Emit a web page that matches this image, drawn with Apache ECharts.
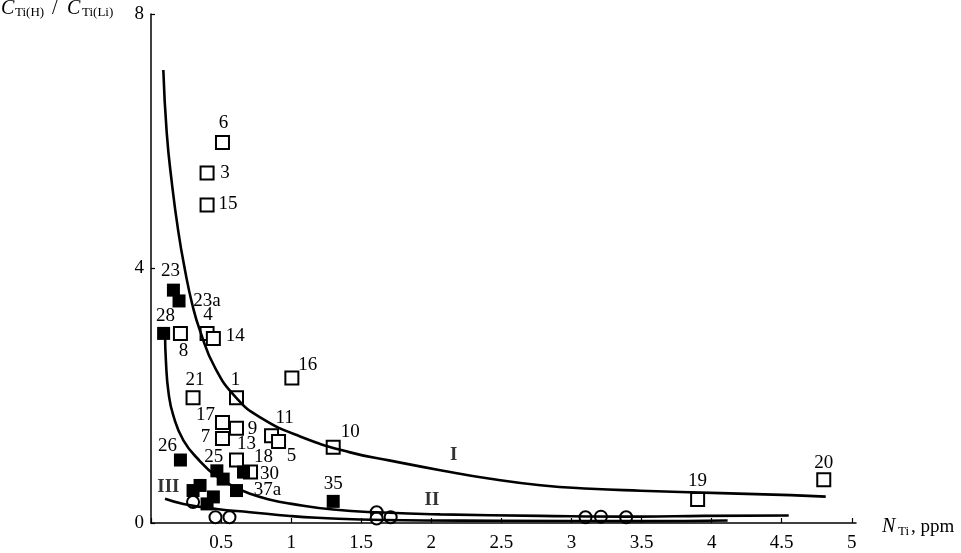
<!DOCTYPE html>
<html>
<head>
<meta charset="utf-8">
<script src="https://cdn.jsdelivr.net/npm/echarts@6/dist/echarts.min.js"></script>
<style>html,body{margin:0;padding:0;background:#fff}#c{width:961px;height:553px}</style>
</head>
<body>
<div id="c"></div>
<script>
// ---- data ----
const xTicks = [0, 0.5, 1, 1.5, 2, 2.5, 3, 3.5, 4, 4.5, 5];
const yTicks = [0, 4, 8];

const openLabels = ['6','3','15','4','14','8','16','21','1','17','9','7','11','5','10','13','18','19','20'];
const openX = [0.51,0.40,0.40,0.40,0.445,0.21,1.005,0.30,0.61,0.51,0.61,0.51,0.86,0.91,1.30,0.61,0.71,3.90,4.80];
const openY = [5.98,5.50,5.00,2.98,2.90,2.98,2.28,1.97,1.97,1.58,1.49,1.33,1.37,1.28,1.19,0.99,0.80,0.37,0.68];

const filledLabels = ['23','23a','28','26','25','','30','37a','','','','','35'];
const filledX = [0.16,0.20,0.09,0.21,0.47,0.515,0.66,0.61,0.35,0.30,0.445,0.40,1.30];
const filledY = [3.66,3.49,2.98,0.99,0.82,0.69,0.80,0.51,0.59,0.51,0.41,0.30,0.34];

const circleX = [0.30,0.46,0.56,1.61,1.61,1.71,3.10,3.21,3.39];
const circleY = [0.33,0.09,0.09,0.17,0.07,0.09,0.09,0.10,0.09];

const curveIX = [0.088,0.112,0.148,0.195,0.243,0.293,0.35,0.457,0.607,0.779,1.064,1.421,1.707,2.064,2.421,2.779,3.136,3.493,4.064,4.564,4.814];
const curveIY = [7.12,6.14,5.36,4.58,3.97,3.45,3.02,2.44,1.97,1.66,1.36,1.11,0.98,0.83,0.695,0.594,0.539,0.508,0.469,0.438,0.414];

const curveIIX = [0.10,0.107,0.125,0.159,0.231,0.35,0.457,0.60,0.707,0.85,0.993,1.30,1.657,2.064,2.779,3.493,3.943,4.55];
const curveIIY = [2.98,2.52,2.05,1.69,1.30,0.97,0.75,0.5625,0.46,0.367,0.305,0.211,0.164,0.136,0.1125,0.10,0.1125,0.117];

const curveIIIX = [0.10,0.231,0.469,0.707,0.993,1.186,1.657,2.5,3.493,4.114];
const curveIIIY = [0.38,0.30,0.22,0.17,0.11,0.083,0.047,0.035,0.03,0.04];

const curveNames = ['I','II','III'];
const curveNameX = [2.16, 2.005, 0.124];
const curveNameY = [1.06, 0.355, 0.5625];

// ---- styles / label placement (pixel offsets from point centre) ----
const labelOffset = {
  '6':[1,-20],'3':[18,0],'15':[21,-1],'4':[1,-18],'14':[22,-2],'8':[3,18],'16':[16,-13],
  '21':[2,-18],'1':[-1,-18],'17':[-17,-7],'9':[16,1],'7':[-17,-1],'11':[13,-18],'5':[13,14],
  '10':[17,-15],'13':[10,-16],'18':[13,-15],'19':[0,-18],'20':[0,-17],
  '23':[-3,-19],'23a':[28,0],'28':[2,-17],'26':[-13,-14],'25':[-3,-14],'30':[26,2],'37a':[31,-1],'35':[0,-17]
};
const SERIF = '"Liberation Serif","DejaVu Serif",serif';

function pts(xs, ys, labels) {
  return xs.map((x, i) => {
    const item = { value: [x, ys[i]] };
    const lab = labels ? labels[i] : '';
    if (lab) {
      item.label = { show: true, formatter: lab, position: 'inside', offset: labelOffset[lab] || [0, -18] };
    }
    return item;
  });
}
function line(xs, ys) { return xs.map((x, i) => [x, ys[i]]); }

const labelStyle = { color: '#000', fontFamily: SERIF, fontSize: 19 };
const curveStyle = { color: '#000', width: 2.6 };

const chart = echarts.init(document.getElementById('c'), null, { renderer: 'canvas' });
chart.setOption({
  animation: false,
  backgroundColor: '#fff',
  grid: { left: 151, right: 105, top: 14, bottom: 27 },
  xAxis: {
    type: 'value', min: 0, max: 5.03,
    axisLine: { lineStyle: { color: '#000', width: 1.5 } },
    axisTick: { inside: true, length: 5, lineStyle: { color: '#000', width: 1.2 }, customValues: xTicks },
    axisLabel: { customValues: xTicks, formatter: v => (v === 0 ? '' : String(v)), color: '#000', fontFamily: SERIF, fontSize: 19, margin: 11 },
    splitLine: { show: false }
  },
  yAxis: {
    type: 'value', min: 0, max: 8, interval: 4,
    axisLine: { show: true, lineStyle: { color: '#000', width: 1.5 } },
    axisTick: { show: true, inside: true, length: 4, lineStyle: { color: '#000', width: 1.2 }, customValues: yTicks },
    axisLabel: { customValues: yTicks, color: '#000', fontFamily: SERIF, fontSize: 19, margin: 7 },
    splitLine: { show: false }
  },
  graphic: [
    { type: 'text', left: 1, top: -1, style: { text: 'C', font: 'italic 20px ' + SERIF, fill: '#000' } },
    { type: 'text', left: 15, top: 6, style: { text: 'Ti(H)', font: '13px ' + SERIF, fill: '#000' } },
    { type: 'text', left: 52, top: -1, style: { text: '/', font: '20px ' + SERIF, fill: '#000' } },
    { type: 'text', left: 67, top: -1, style: { text: 'C', font: 'italic 20px ' + SERIF, fill: '#000' } },
    { type: 'text', left: 82, top: 6, style: { text: 'Ti(Li)', font: '13px ' + SERIF, fill: '#000' } },
    { type: 'text', left: 882, top: 517, style: { text: 'N', font: 'italic 20px ' + SERIF, fill: '#000' } },
    { type: 'text', left: 898, top: 525, style: { text: 'Ti', font: '13px ' + SERIF, fill: '#000' } },
    { type: 'text', left: 911, top: 518, style: { text: ', ppm', font: '19px ' + SERIF, fill: '#000' } }
  ],
  series: [
    {
      type: 'scatter', name: 'open', symbol: 'rect', symbolSize: 13, z: 2,
      itemStyle: { color: '#fff', borderColor: '#000', borderWidth: 2, opacity: 1 },
      label: labelStyle,
      data: pts(openX, openY, openLabels)
    },
    {
      type: 'scatter', name: 'filled', symbol: 'rect', symbolSize: 13, z: 3,
      itemStyle: { color: '#000', borderColor: '#000', borderWidth: 0, opacity: 1 },
      label: labelStyle,
      data: pts(filledX, filledY, filledLabels)
    },
    {
      type: 'scatter', name: 'circle', symbol: 'circle', symbolSize: 12, z: 4,
      itemStyle: { color: '#fff', borderColor: '#000', borderWidth: 2, opacity: 1 },
      data: pts(circleX, circleY, null)
    },
    { type: 'line', name: 'I', data: line(curveIX, curveIY), smooth: true, showSymbol: false, symbol: 'none', z: 5, lineStyle: curveStyle },
    { type: 'line', name: 'II', data: line(curveIIX, curveIIY), smooth: true, showSymbol: false, symbol: 'none', z: 5, lineStyle: curveStyle },
    { type: 'line', name: 'III', data: line(curveIIIX, curveIIIY), smooth: true, showSymbol: false, symbol: 'none', z: 5, lineStyle: curveStyle },
    {
      type: 'scatter', name: 'curveNames', symbolSize: 0, z: 6,
      label: { show: true, position: 'inside', formatter: p => p.data.n, color: '#000', fontFamily: SERIF, fontSize: 19, fontWeight: 'bold' },
      data: curveNameX.map((x, i) => ({ value: [x, curveNameY[i]], n: curveNames[i] }))
    }
  ]
});
</script>
</body>
</html>
